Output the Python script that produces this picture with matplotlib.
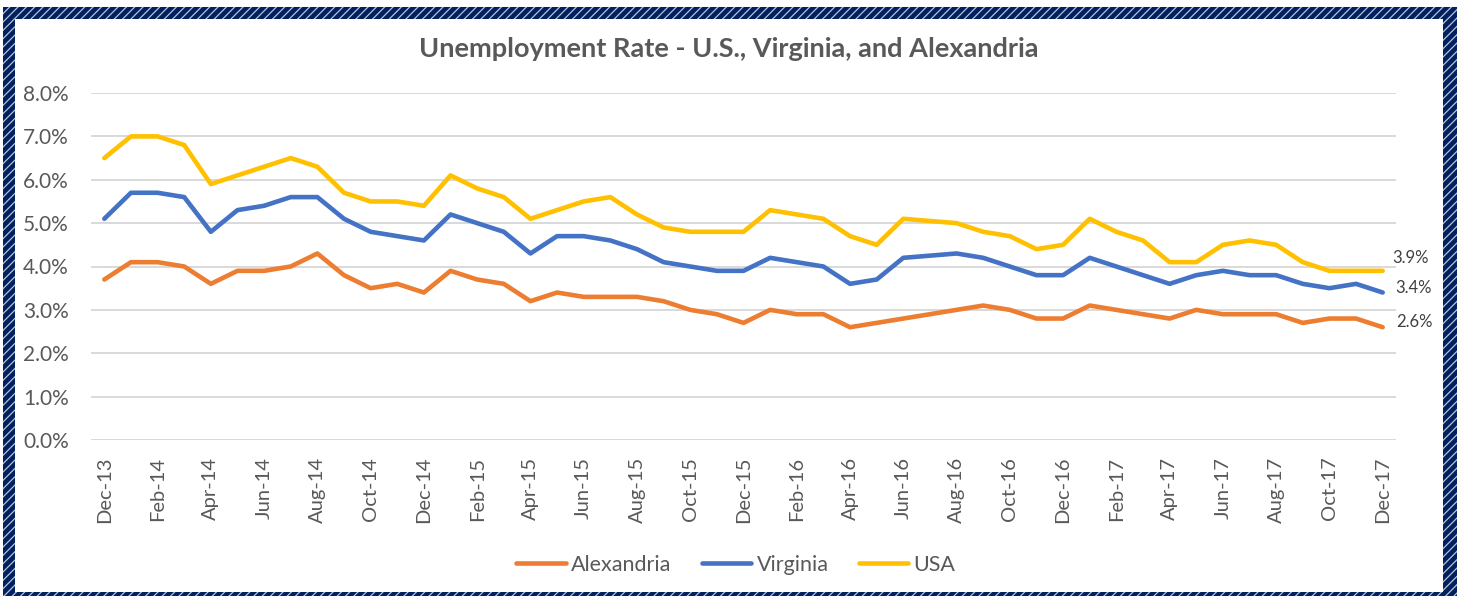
import numpy as np
import matplotlib
matplotlib.use("Agg")
import matplotlib.pyplot as plt
from matplotlib.patches import Rectangle

# monthly values, Dec-13 .. Dec-17 (percent)
months = ["Dec-13", "Jan-14", "Feb-14", "Mar-14", "Apr-14", "May-14", "Jun-14", "Jul-14",
          "Aug-14", "Sep-14", "Oct-14", "Nov-14", "Dec-14", "Jan-15", "Feb-15", "Mar-15",
          "Apr-15", "May-15", "Jun-15", "Jul-15", "Aug-15", "Sep-15", "Oct-15", "Nov-15",
          "Dec-15", "Jan-16", "Feb-16", "Mar-16", "Apr-16", "May-16", "Jun-16", "Jul-16",
          "Aug-16", "Sep-16", "Oct-16", "Nov-16", "Dec-16", "Jan-17", "Feb-17", "Mar-17",
          "Apr-17", "May-17", "Jun-17", "Jul-17", "Aug-17", "Sep-17", "Oct-17", "Nov-17",
          "Dec-17"]

alexandria = [3.7, 4.1, 4.1, 4.0, 3.6, 3.9, 3.9, 4.0, 4.3, 3.8, 3.5, 3.6, 3.4,
              3.9, 3.7, 3.6, 3.2, 3.4, 3.3, 3.3, 3.3, 3.2, 3.0, 2.9, 2.7,
              3.0, 2.9, 2.9, 2.6, 2.7, 2.8, 2.9, 3.0, 3.1, 3.0, 2.8, 2.8,
              3.1, 3.0, 2.9, 2.8, 3.0, 2.9, 2.9, 2.9, 2.7, 2.8, 2.8, 2.6]
virginia = [5.1, 5.7, 5.7, 5.6, 4.8, 5.3, 5.4, 5.6, 5.6, 5.1, 4.8, 4.7, 4.6,
            5.2, 5.0, 4.8, 4.3, 4.7, 4.7, 4.6, 4.4, 4.1, 4.0, 3.9, 3.9,
            4.2, 4.1, 4.0, 3.6, 3.7, 4.2, 4.25, 4.3, 4.2, 4.0, 3.8, 3.8,
            4.2, 4.0, 3.8, 3.6, 3.8, 3.9, 3.8, 3.8, 3.6, 3.5, 3.6, 3.4]
usa = [6.5, 7.0, 7.0, 6.8, 5.9, 6.1, 6.3, 6.5, 6.3, 5.7, 5.5, 5.5, 5.4,
       6.1, 5.8, 5.6, 5.1, 5.3, 5.5, 5.6, 5.2, 4.9, 4.8, 4.8, 4.8,
       5.3, 5.2, 5.1, 4.7, 4.5, 5.1, 5.05, 5.0, 4.8, 4.7, 4.4, 4.5,
       5.1, 4.8, 4.6, 4.1, 4.1, 4.5, 4.6, 4.5, 4.1, 3.9, 3.9, 3.9]

series = [("Alexandria", alexandria, "#ED7D31"),
          ("Virginia", virginia, "#4472C4"),
          ("USA", usa, "#FFC000")]
# offsets (points) of the end labels from the last point
label_offsets = {"Alexandria": (10, 4), "Virginia": (9, 3), "USA": (7, 9)}

plt.rcParams["font.family"] = ["Lato", "DejaVu Sans"]
plt.rcParams["hatch.linewidth"] = 0.9

W, H = 1457, 596
fig = plt.figure(figsize=(W / 100, H / 100), dpi=100)

# hatched navy frame
fig.patches.append(Rectangle((3 / W, 0), (W - 3) / W, (H - 7) / H, transform=fig.transFigure,
                             facecolor="#002060", edgecolor="#B8C3D6", hatch="////", lw=0, zorder=-2))
fig.patches.append(Rectangle((15 / W, 4 / H), 1428 / W, 573 / H, transform=fig.transFigure,
                             facecolor="white", lw=0, zorder=-1))

ax = fig.add_axes([91 / W, (H - 440) / H, (1396 - 91) / W, (440 - 93) / H])
ax.set_facecolor("none")

x = np.arange(len(months))
for name, vals, col in series:
    ax.plot(x, vals, color=col, lw=3.3, label=name, solid_capstyle="round", solid_joinstyle="round")

# end-of-series value labels
for name, vals, col in series:
    ax.annotate(f"{vals[-1]:.1f}%", (x[-1], vals[-1]), xytext=label_offsets[name],
                textcoords="offset points", va="center", ha="left", fontsize=12,
                color="#404040", annotation_clip=False)

ax.set_xlim(-0.5, len(months) - 0.5)
ax.set_ylim(0, 8)
ax.set_yticks(np.arange(0, 9, 1))
ax.set_yticklabels([f"{v:.1f}%" for v in range(9)])
ax.set_xticks(x[::2])
ax.set_xticklabels(months[::2], rotation=90)
ax.grid(axis="y", color="#D9D9D9", lw=1.4)
ax.set_axisbelow(True)
for s in ax.spines.values():
    s.set_visible(False)
ax.tick_params(axis="y", length=0, pad=16, labelsize=15, labelcolor="#595959")
ax.tick_params(axis="x", length=0, pad=12, labelsize=14.5, labelcolor="#595959")

fig.text(0.5, 1 - 49 / H, "Unemployment Rate - U.S., Virginia, and Alexandria",
         ha="center", va="center", fontsize=19.5, fontweight="bold", color="#595959")

fig.legend(loc="center", bbox_to_anchor=(736 / W, 1 - 565 / H), ncol=3, frameon=False,
           fontsize=15.5, handlelength=2.3, handletextpad=0.25, columnspacing=1.4,
           labelcolor="#595959")

fig.savefig("out.png", dpi=100)
